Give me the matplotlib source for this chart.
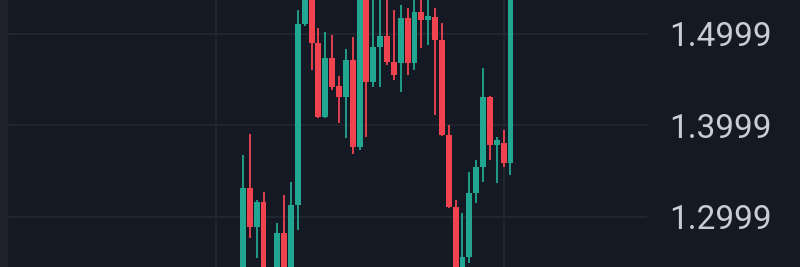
import numpy as np
import matplotlib
matplotlib.use("Agg")
from matplotlib import pyplot as plt

# candle OHLC (index 4 sits below the visible window)
opens = [1.2305, 1.3312, 1.2885, 1.3159, 1.2195, 1.2195, 1.2820, 1.2250, 1.3126, 1.5108,
         1.5481, 1.4900, 1.4090, 1.4736, 1.4430, 1.4309, 1.4714, 1.3761, 1.5426, 1.4473,
         1.4856, 1.4977, 1.4692, 1.4681, 1.5174, 1.4681, 1.5240, 1.5152, 1.5185, 1.4933,
         1.3893, 1.3104, 1.2195, 1.2557, 1.3258, 1.3542, 1.4309, 1.3783, 1.3805, 1.3586]
highs = [1.3674, 1.3904, 1.3181, 1.3269, 1.2360, 1.2929, 1.3236, 1.3378, 1.5261, 1.5590,
         1.5535, 1.5064, 1.5021, 1.4988, 1.4539, 1.4834, 1.4966, 1.5535, 1.5481, 1.5371,
         1.5371, 1.5426, 1.5261, 1.5316, 1.5283, 1.5426, 1.5426, 1.5426, 1.5283, 1.5119,
         1.4002, 1.3181, 1.3039, 1.3488, 1.3619, 1.4626, 1.4320, 1.3871, 1.3948, 1.5590]
lows = [1.2195, 1.2765, 1.2546, 1.2086, 1.2086, 1.2086, 1.2141, 1.2195, 1.2853, 1.5086,
        1.4604, 1.4079, 1.4079, 1.4386, 1.4024, 1.3860, 1.3685, 1.3729, 1.3871, 1.4418,
        1.4418, 1.4659, 1.4495, 1.4364, 1.4550, 1.4604, 1.4845, 1.4878, 1.4112, 1.3880,
        1.3095, 1.2086, 1.2141, 1.2491, 1.3148, 1.3378, 1.3619, 1.3367, 1.3542, 1.3455]
closes = [1.3312, 1.2885, 1.3159, 1.2195, 1.2305, 1.2820, 1.2250, 1.3126, 1.5108, 1.5481,
          1.4900, 1.4090, 1.4736, 1.4418, 1.4309, 1.4714, 1.3761, 1.5426, 1.4473, 1.4856,
          1.4977, 1.4692, 1.4550, 1.5174, 1.4681, 1.5240, 1.5152, 1.5196, 1.4933, 1.3893,
          1.3104, 1.2195, 1.2557, 1.3258, 1.3542, 1.4309, 1.3783, 1.3838, 1.3586, 1.5481]

price_ticks = [1.2999, 1.3999, 1.4999]
vgrid_idx = [-4, 38]

BG = "#151924"
GRID = "#222631"
UP = "#22a691"
DOWN = "#f0434f"

fig = plt.figure(figsize=(8, 2.67), dpi=100, facecolor=BG)
# thin lighter strip at the far left edge
fig.patches.append(plt.Rectangle((0, 0), 7 / 800, 1, transform=fig.transFigure,
                                 color="#1f222b", zorder=0))
ax = fig.add_axes([7 / 800, 0, 640 / 800, 1], facecolor=BG)

o = np.array(opens)
c = np.array(closes)
x = np.arange(len(o))
colors = np.where(c >= o, UP, DOWN)

ax.vlines(x, lows, highs, colors=colors, linewidth=1.3, zorder=3)
ax.bar(x, np.abs(c - o), bottom=np.minimum(o, c), width=0.86, color=colors,
       linewidth=0, zorder=4)

for p in price_ticks:
    ax.axhline(p, color=GRID, linewidth=1.4, zorder=1)
for v in vgrid_idx:
    ax.axvline(v, color=GRID, linewidth=1.4, zorder=1)

ax.set_xlim(-34.4, 58.9)
ax.set_ylim(1.2448, 1.5371)

ax.yaxis.tick_right()
ax.set_yticks(price_ticks)
ax.set_yticklabels([f"{p:.4f}" for p in price_ticks])
ax.tick_params(axis="y", length=0, pad=16, labelsize=24, labelcolor="#c9ccd3")
for lbl in ax.get_yticklabels():
    lbl.set_fontfamily("Roboto")
ax.set_xticks([])
for s in ax.spines.values():
    s.set_visible(False)

fig.savefig("out.png", dpi=100, facecolor=fig.get_facecolor())
